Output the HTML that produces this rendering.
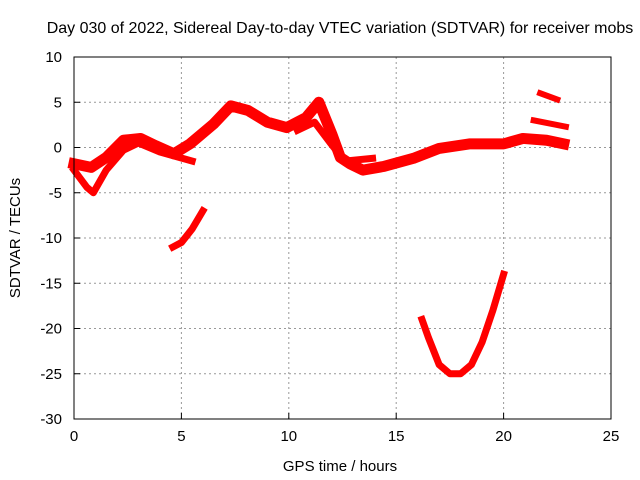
<!DOCTYPE html>
<html><head><meta charset="utf-8"><style>
body{margin:0;background:#fff}
svg{display:block;font-family:"Liberation Sans",sans-serif}
</style></head><body>
<svg id="chart" width="640" height="480">
<text x="340" y="33" font-size="16" text-anchor="middle">Day 030 of 2022, Sidereal Day-to-day VTEC variation (SDTVAR) for receiver mobs</text>
<text x="340" y="471" font-size="15" text-anchor="middle">GPS time / hours</text>
<text x="20" y="238" font-size="15" text-anchor="middle" transform="rotate(-90 20 238)">SDTVAR / TECUs</text>
<g id="grid"></g><g id="axes"></g><g id="series"></g>
<rect x="74" y="57" width="537" height="362" fill="none" stroke="#000"/>
</svg>
<script>
const xTicks=[0,5,10,15,20,25];
const yTicks=[10,5,0,-5,-10,-15,-20,-25,-30];
const trackA=[[0,-1.8],[0.8,-2.2],[1.5,-1.1],[2.3,0.8],[3.1,1.0],[3.8,0.2],[4.65,-0.7],[5.4,0.4],[6.5,2.6],[7.3,4.6],[8.1,4.1],[9,2.8],[9.9,2.2],[10.8,3.3],[11.4,5.0],[12,1.5],[12.4,-1.1],[12.85,-1.8],[13.45,-2.5],[14.4,-2.1],[15.8,-1.2],[17,-0.1],[18.4,0.4],[20,0.4],[20.9,1.0],[22,0.8],[22.8,0.4]];
const trackB=[[0,-2.5],[0.6,-4.4],[0.9,-5.0],[1.5,-2.5],[2.3,-0.3],[3,0.5],[4,-0.5],[5.5,-1.5]];
const trackC=[[4.6,-11],[5,-10.5],[5.5,-9],[6,-7]];
const trackD=[[16.2,-19],[16.5,-21],[17,-24],[17.5,-25],[18,-25],[18.5,-24],[19,-21.5],[19.5,-18],[20,-14]];
const trackE=[[21.4,3.0],[22.9,2.3]];
const trackF=[[21.7,6.0],[22.5,5.3]];
const trackG=[[10.4,1.9],[11.2,2.8],[11.9,0.6],[12.6,-1.5],[13.9,-1.2]];
const tracks=[trackA,trackB,trackC,trackD,trackE,trackF,trackG];
const widths=[11,7,7,7,6,6,7];
const X0=74,X1=611,Y0=419,Y1=57;
const sx=v=>X0+(v-0)/25*(X1-X0);
const sy=v=>Y0-(v+30)/40*(Y0-Y1);
const NS="http://www.w3.org/2000/svg";
const g=document.getElementById('grid'),ax=document.getElementById('axes'),se=document.getElementById('series');
function mk(t,a,p){const e=document.createElementNS(NS,t);for(const k in a)e.setAttribute(k,a[k]);p.appendChild(e);return e;}
xTicks.forEach(t=>{
 const x=sx(t);
 if(t>0&&t<25){const l=mk('line',{x1:x,x2:x,y1:Y1,y2:Y0,stroke:'#999','stroke-dasharray':'2,3'},g);
 
 }
 const tk=mk('line',{x1:x,x2:x,y1:Y0,y2:Y0-6,stroke:'#000'},ax);
 
 
 const tx=mk('text',{x:x,y:Y0+22,'font-size':15,'text-anchor':'middle'},ax);tx.textContent=t;
 
 
});
yTicks.forEach(t=>{
 const y=sy(t);
 if(t<10&&t>-30){const l=mk('line',{x1:X0,x2:X1,y1:y,y2:y,stroke:'#999','stroke-dasharray':'2,3'},g);
 
 }
 const tk=mk('line',{x1:X0,x2:X0+6,y1:y,y2:y,stroke:'#000'},ax);
 
 
 const tx=mk('text',{x:X0-12,y:y+5,'font-size':15,'text-anchor':'end'},ax);tx.textContent=t;
 
 
});
tracks.forEach((tr,i)=>{
 const p=mk('polyline',{points:tr.map(d=>sx(d[0])+','+sy(d[1])).join(' '),fill:'none',stroke:'#f00','stroke-width':widths[i],'stroke-linejoin':'round','stroke-linecap':'square'},se);
 
 
});
</script>
</body></html>
